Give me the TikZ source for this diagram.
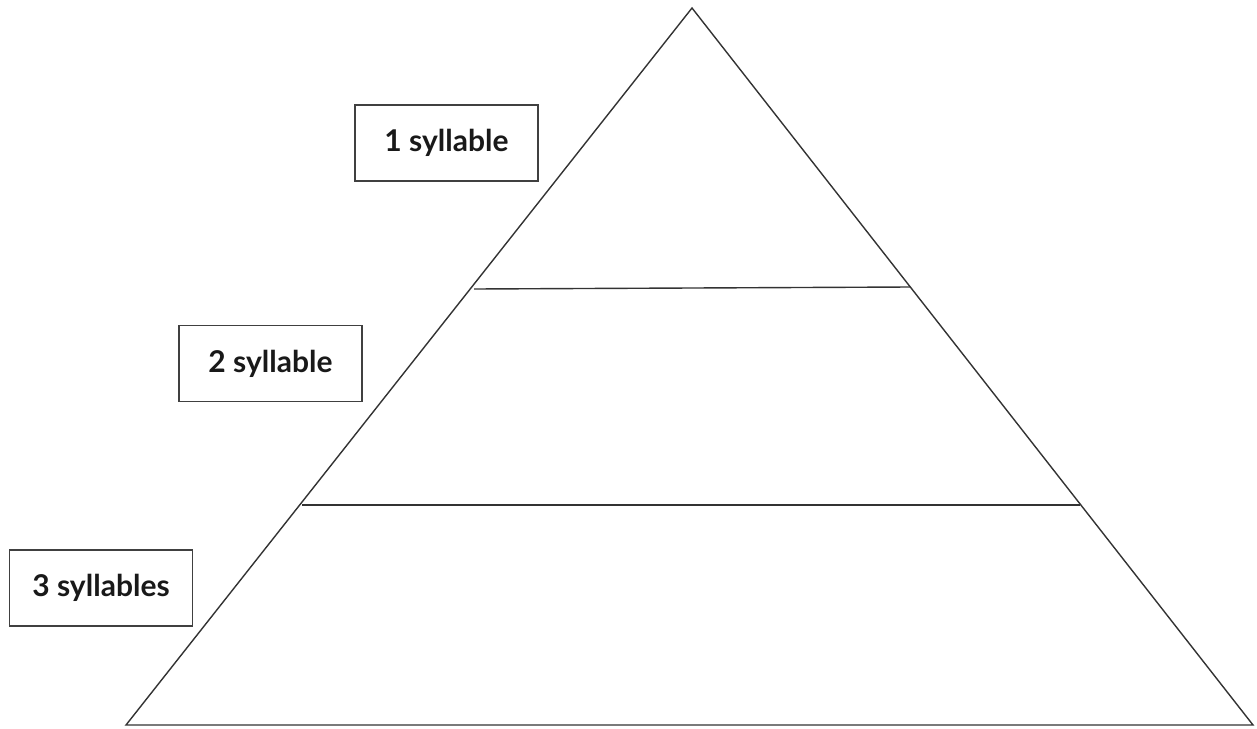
\documentclass[tikz,border=0pt]{standalone}
\usepackage{fontspec}
\setmainfont{Lato}
\begin{document}
\begin{tikzpicture}[x=1pt,y=-1pt,
  line/.style={draw=black!80,line width=1.4pt},
  lbl/.style={draw=black!75,line width=1.3pt,minimum width=183pt,minimum height=76pt,inner sep=0pt,font=\fontsize{30}{36}\selectfont\bfseries,text=black!90},
]
\useasboundingbox (0,0) rectangle (1257,728);
\coordinate (A) at (692,8);
\coordinate (L) at (126,725);
\coordinate (R) at (1253,725);
\coordinate (u1) at (474,289);
\coordinate (u2) at (910,287);
\coordinate (m1) at (302,505);
\coordinate (m2) at (1080,505);
\draw[line,line join=miter] (A) -- (L) -- (R) -- cycle;
\draw[line] (u1) -- (u2);
\draw[line] (m1) -- (m2);
\node[lbl] (b1) at (446.5,143) {1 syllable};
\node[lbl] (b2) at (270.5,363.5) {2 syllable};
\node[lbl] (b3) at (101,588) {3 syllables};
\end{tikzpicture}
\end{document}
